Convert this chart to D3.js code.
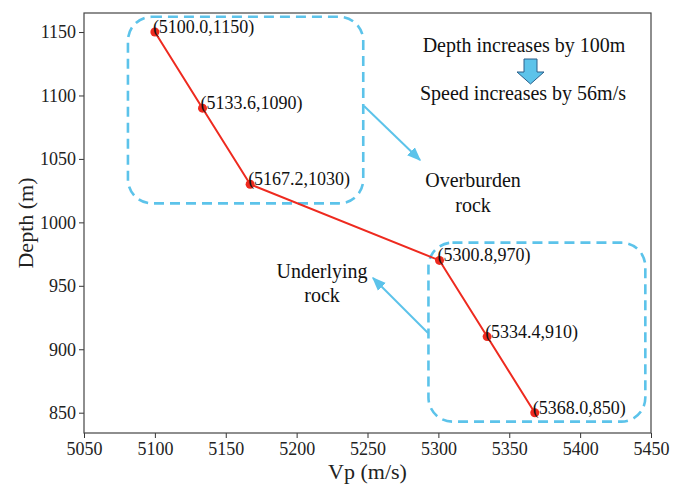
<!DOCTYPE html>
<html>
<head>
<meta charset="utf-8">
<script src="https://cdn.jsdelivr.net/npm/d3@7"></script>
<style>
  html, body { margin: 0; padding: 0; background: #fff; }
  svg { display: block; }
  svg text { font-family: "Liberation Serif", "Times New Roman", serif; }
</style>
</head>
<body>
<svg id="chart" width="687" height="489"></svg>
<script>
// Velocity profile samples
const vp = [5100.0, 5133.6, 5167.2, 5300.8, 5334.4, 5368.0];
const depth = [1150, 1090, 1030, 970, 910, 850];
const xTicks = [5050, 5100, 5150, 5200, 5250, 5300, 5350, 5400, 5450];
const yTicks = [850, 900, 950, 1000, 1050, 1100, 1150];
// Rock-zone outlines in data units: [vp0, vp1, depth0, depth1]
const overburdenZone = [5081, 5247, 1015, 1162];
const underlyingZone = [5293, 5446, 843, 984];

const SERIF = "Liberation Serif, Times New Roman, serif";
const margin = { left: 84, right: 36, top: 13, bottom: 56 };
const W = 687, H = 489;
const svg = d3.select("#chart");

const x = d3.scaleLinear().domain([5050, 5450]).range([margin.left, W - margin.right]);
const y = d3.scaleLinear().domain([834, 1165]).range([H - margin.bottom, margin.top]);

const blue = "#5cc3ea";
const red = "#ee2a1f";

// Axes
const xAxis = svg.append("g")
  .attr("transform", `translate(0,${H - margin.bottom})`)
  .call(d3.axisBottom(x).tickValues(xTicks).tickFormat(d3.format("d")).tickSizeOuter(0).tickSize(5).tickPadding(4));
const yAxis = svg.append("g")
  .attr("transform", `translate(${margin.left},0)`)
  .call(d3.axisLeft(y).tickValues(yTicks).tickFormat(d3.format("d")).tickSizeOuter(0).tickSize(5).tickPadding(3));
[xAxis, yAxis].forEach(g => {
  g.attr("font-family", SERIF).attr("font-size", 18);
  g.select(".domain").remove();
  g.selectAll("line").attr("stroke", "#333");
  g.selectAll("text").attr("fill", "#222");
});

// Frame
svg.append("rect")
  .attr("x", margin.left).attr("y", margin.top)
  .attr("width", W - margin.left - margin.right)
  .attr("height", H - margin.top - margin.bottom)
  .attr("fill", "none").attr("stroke", "#444").attr("stroke-width", 1.2);

// Axis titles
svg.append("text")
  .attr("x", (margin.left + W - margin.right) / 2).attr("y", 479)
  .attr("text-anchor", "middle").attr("font-family", SERIF).attr("font-size", 22).attr("fill", "#222")
  .text("Vp (m/s)");
svg.append("text")
  .attr("transform", `translate(33,${(margin.top + H - margin.bottom) / 2}) rotate(-90)`)
  .attr("text-anchor", "middle").attr("font-family", SERIF).attr("font-size", 22).attr("fill", "#222")
  .text("Depth (m)");

// Dashed zone outlines
[overburdenZone, underlyingZone].forEach(z => {
  svg.append("rect")
    .attr("x", x(z[0])).attr("y", y(z[3]))
    .attr("width", x(z[1]) - x(z[0]))
    .attr("height", y(z[2]) - y(z[3]))
    .attr("rx", 24).attr("ry", 24)
    .attr("fill", "none").attr("stroke", blue)
    .attr("stroke-width", 2.6).attr("stroke-dasharray", "10,6");
});

// Pointer arrows
const defs = svg.append("defs");
defs.append("marker")
  .attr("id", "head").attr("viewBox", "0 0 10 10")
  .attr("refX", 9).attr("refY", 5)
  .attr("markerWidth", 7).attr("markerHeight", 7)
  .attr("orient", "auto")
  .append("path").attr("d", "M0,1 L10,5 L0,9 Z").attr("fill", blue);

svg.append("line")
  .attr("x1", 364).attr("y1", 106).attr("x2", 420).attr("y2", 160)
  .attr("stroke", blue).attr("stroke-width", 2).attr("marker-end", "url(#head)");
svg.append("line")
  .attr("x1", 428).attr("y1", 333).attr("x2", 373).attr("y2", 278)
  .attr("stroke", blue).attr("stroke-width", 2).attr("marker-end", "url(#head)");

// Annotations
const note = (tx, ty, s) => svg.append("text")
  .attr("x", tx).attr("y", ty).attr("text-anchor", "middle")
  .attr("font-family", SERIF).attr("font-size", 20).attr("fill", "#111").text(s);
note(473, 187, "Overburden");
note(473, 212, "rock");
note(322, 278, "Underlying");
note(322, 302, "rock");
note(524, 52, "Depth increases by 100m");
note(523, 100, "Speed increases by 56m/s");

// Block arrow between the two statements
svg.append("path")
  .attr("d", "M524,59 L537,59 L537,72 L544,72 L530.5,84 L517,72 L524,72 Z")
  .attr("fill", blue).attr("stroke", "#2a5f8a").attr("stroke-width", 1);

// Profile line and points
const pts = vp.map((v, i) => ({ v, d: depth[i] }));
svg.append("path")
  .datum(pts)
  .attr("d", d3.line().x(p => x(p.v)).y(p => y(p.d)))
  .attr("fill", "none").attr("stroke", red).attr("stroke-width", 2);
svg.selectAll("circle.pt").data(pts).enter().append("circle")
  .attr("class", "pt")
  .attr("cx", p => x(p.v)).attr("cy", p => y(p.d)).attr("r", 4.5)
  .attr("fill", red);

// Point labels
svg.selectAll("text.lbl").data(pts).enter().append("text")
  .attr("class", "lbl")
  .attr("x", p => x(p.v) - 2).attr("y", p => y(p.d) + 1)
  .attr("font-family", SERIF).attr("font-size", 18).attr("fill", "#111")
  .text(p => `(${p.v.toFixed(1)},${p.d})`);
</script>
</body>
</html>
